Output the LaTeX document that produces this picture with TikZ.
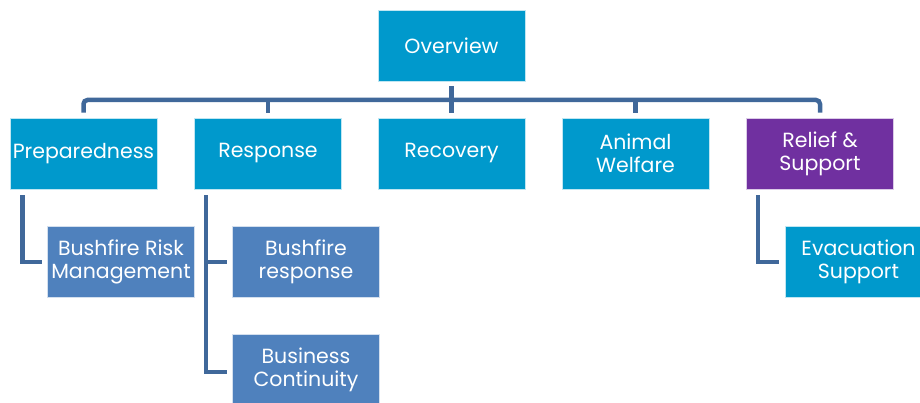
\documentclass[tikz,border=0pt]{standalone}
\usepackage{fontspec}
\setmainfont{Poppins}
\usepackage{tikz}
\usetikzlibrary{positioning,calc}
\definecolor{topblue}{RGB}{0,153,204}
\definecolor{subblue}{RGB}{79,129,189}
\definecolor{relpurple}{RGB}{112,48,160}
\definecolor{linkcol}{RGB}{64,104,154}

\begin{document}
\begin{tikzpicture}[x=1pt,y=1pt,
  box/.style={fill=topblue, draw=white!75!topblue, line width=0.6pt,
    minimum width=147pt, minimum height=71pt, inner sep=0pt,
    text=white, align=center, font=\fontsize{20.5}{23}\selectfont},
  subbox/.style={box, fill=subblue, draw=white!75!subblue},
  link/.style={draw=linkcol, line width=4.5pt}]
  \useasboundingbox (0,0) rectangle (920,-403);
  \clip (0,0) rectangle (920,-403);
  % top level
  \node[box] (ov) at (451.5,-45.5) {Overview};
  \node[box] (prep) at (83.5,-153.5) {Preparedness};
  \node[box] (resp) at (268,-153.5) {Response};
  \node[box] (rec) at (451.5,-153.5) {Recovery};
  \node[box] (anim) at (635.5,-153.5) {Animal\\Welfare};
  \node[box, fill=relpurple, draw=white!75!relpurple] (rel) at (820,-153.5) {Relief \&\\Support};
  % second level
  \node[subbox] (brm) at (121,-262) {Bushfire Risk\\Management};
  \node[subbox] (bfr) at (306,-262) {Bushfire\\response};
  \node[subbox] (bc) at (306,-370) {Business\\Continuity};
  \node[box] (evac) at (858.5,-262) {Evacuation\\Support};
  \coordinate (bus) at (0,-100);
  % links
  \draw[link] ([yshift=-5pt]ov.south) -- ([yshift=5pt]rec.north);
  \draw[link, rounded corners=4pt] ([yshift=5pt]prep.north) |- (bus -| rec.north)
    -| ([yshift=5pt]rel.north);
  \draw[link] ([yshift=5pt]resp.north) -- (resp.north |- bus);
  \draw[link] ([yshift=5pt]anim.north) -- (anim.north |- bus);
  \draw[link] ([xshift=13pt,yshift=-6pt]prep.south west) |- ([xshift=-5pt]brm.west);
  \draw[link] ([xshift=12pt,yshift=-6pt]resp.south west) |- ([xshift=-5pt,yshift=-2pt]bc.west);
  \draw[link] ([xshift=12pt]resp.south west |- bfr.west) -- ([xshift=-5pt]bfr.west);
  \draw[link] ([xshift=12pt,yshift=-6pt]rel.south west) |- ([xshift=-6pt]evac.west);
\end{tikzpicture}
\end{document}
